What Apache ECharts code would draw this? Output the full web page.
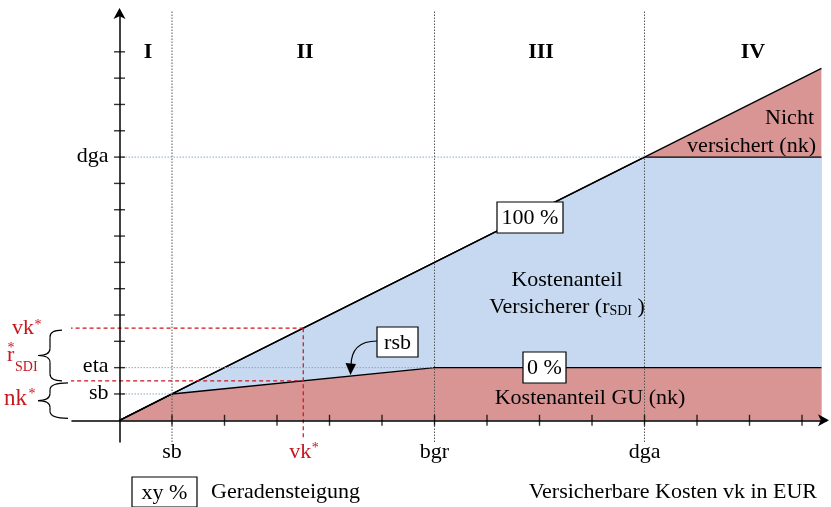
<!DOCTYPE html>
<html>
<head>
<meta charset="utf-8">
<script src="https://cdn.jsdelivr.net/npm/echarts@6/dist/echarts.min.js"></script>
<style>
html, body { margin: 0; padding: 0; background: #fff; }
#chart { width: 831px; height: 507px; }
</style>
</head>
<body>
<div id="chart"></div>
<script>
// Eckpunkte der Kurven (x in Tick-Einheiten)
var edgeX    = [0, 1, 6, 10, 13.37];      // 0, sb, bgr, dga, Ende
var totalY   = [0, 1, 6, 10, 13.37];      // 100 % Linie (vk)
var insuredY = [0, 1, 6, 10, 10];         // gedeckelt bei dga
var guY      = [0, 1, 2, 2, 2];           // rsb-Linie, ab bgr = eta

var xTickVals = [1, 2, 3, 4, 5, 6, 7, 8, 9, 10, 11, 12, 13];
var yTickVals = [1, 2, 3, 4, 5, 6, 7, 8, 9, 10, 11, 12, 13, 14];
var xLabelVals = [1, 3.5, 6, 10];
var xLabelNames = ['sb', 'vk', 'bgr', 'dga'];
var yLabelVals = [1, 2, 10];
var yLabelNames = ['sb', 'eta', 'dga'];

var phaseX = [1, 6, 10];                  // gepunktete Grenzen sb, bgr, dga
var levelY = [1, 2, 10];                  // sb, eta, dga
var levelEndX = [1, 6, 10];
var vkStar = 3.5, nkStar = 1.5;

var X_MIN = -0.905, X_MAX = 13.457, Y_MIN = -0.825, Y_MAX = 15.551;

var PINK = '#d99594', BLUE = '#c6d9f0', RED = '#c8161d', DOT = '#8aa4c8';
var FONT = '"Liberation Serif", "Times New Roman", serif';
var FS = 22;

function pts(xs, ys) {
    return xs.map(function (x, i) { return [x, ys[i]]; });
}

function lineSeries(data, color, type, width) {
    return {
        type: 'line', data: data, symbol: 'none', silent: true, clip: false, z: 3,
        lineStyle: { color: color, type: type, width: width }
    };
}

function areaSeries(ys, fill) {
    return {
        type: 'line', data: pts(edgeX, ys), symbol: 'none', silent: true, z: 2,
        areaStyle: { color: fill, opacity: 1 },
        lineStyle: { color: '#000', width: 1.4 }
    };
}

var series = [
    areaSeries(totalY, PINK),
    areaSeries(insuredY, BLUE),
    areaSeries(guY, PINK)
];

phaseX.forEach(function (x) {
    series.push(lineSeries([[x, Y_MIN], [x, Y_MAX]], '#555', [1.5, 1.5], 1));
});
levelY.forEach(function (y, i) {
    series.push(lineSeries([[0, y], [levelEndX[i], y]], DOT, [1.5, 1.5], 1));
});
// rote Hilfslinien vk* / nk*
series.push(lineSeries([[-1.55, vkStar], [-1.40, vkStar]], RED, [4, 3], 1.2));
series.push(lineSeries([[-0.97, vkStar], [vkStar, vkStar]], RED, [4, 3], 1.2));
series.push(lineSeries([[-0.94, nkStar], [vkStar, nkStar]], RED, [4, 3], 1.2));
series.push(lineSeries([[vkStar, vkStar], [vkStar, -0.65]], RED, [4, 3], 1.2));

// Achsenstriche
series.push({
    type: 'scatter', silent: true, z: 6, symbol: 'rect', symbolSize: [1.4, 11],
    itemStyle: { color: '#000' },
    data: xTickVals.map(function (v) { return [v, 0]; })
});
series.push({
    type: 'scatter', silent: true, z: 6, symbol: 'rect', symbolSize: [11, 1.4],
    itemStyle: { color: '#000' },
    data: yTickVals.map(function (v) { return [0, v]; })
});

var axisLine = {
    onZero: true, symbol: ['none', 'arrow'], symbolSize: [9, 11], symbolOffset: [0, 3],
    lineStyle: { color: '#000', width: 1.5 }
};

var chart = echarts.init(document.getElementById('chart'));
chart.setOption({
    animation: false,
    grid: { left: 72, right: 5, top: 11, bottom: 65, outerBoundsMode: 'none' },
    xAxis: {
        type: 'value', min: X_MIN, max: X_MAX, z: 5,
        axisLine: axisLine, axisTick: { show: false }, splitLine: { show: false },
        axisLabel: { show: false }
    },
    yAxis: {
        type: 'value', min: Y_MIN, max: Y_MAX, z: 5,
        axisLine: axisLine, axisTick: { show: false }, splitLine: { show: false },
        axisLabel: { show: false }
    },
    series: series
});

function P(x, y) { return chart.convertToPixel({ gridIndex: 0 }, [x, y]); }

function txt(x, y, text, opt) {
    opt = opt || {};
    return {
        type: 'text', x: x, y: y, z: 100, silent: true,
        style: {
            text: text, fill: opt.color || '#000',
            font: (opt.bold ? 'bold ' : '') + (opt.size || FS) + 'px ' + FONT,
            align: opt.align || 'center', verticalAlign: 'middle',
            textAlign: opt.align || 'center', textVerticalAlign: 'middle',
            rich: opt.rich
        }
    };
}

function box(x, y, w, h, text) {
    return [
        { type: 'rect', z: 99, silent: true, shape: { x: x, y: y, width: w, height: h },
          style: { fill: '#fff', stroke: '#000', lineWidth: 1.2 } },
        txt(x + w / 2, y + h / 2 + 1, text)
    ];
}

function curve(x1, y1, cx, cy, x2, y2) {
    return { type: 'bezierCurve', z: 100, silent: true,
             shape: { x1: x1, y1: y1, cpx1: cx, cpy1: cy, x2: x2, y2: y2 },
             style: { stroke: '#000', fill: null, lineWidth: 1.2 } };
}
function seg(x1, y1, x2, y2) {
    return { type: 'line', z: 100, silent: true,
             shape: { x1: x1, y1: y1, x2: x2, y2: y2 },
             style: { stroke: '#000', lineWidth: 1.2 } };
}

// geschweifte Klammer, Spitze nach links
function brace(xr, xs, xt, y0, y1) {
    var r = 7, ym = (y0 + y1) / 2;
    return [
        curve(xr, y0, xs, y0, xs, y0 + r),
        seg(xs, y0 + r, xs, ym - r),
        curve(xs, ym - r, xs, ym, xt, ym),
        curve(xt, ym, xs, ym, xs, ym + r),
        seg(xs, ym + r, xs, y1 - r),
        curve(xs, y1 - r, xs, y1, xr, y1)
    ];
}

var origin = P(0, 0), x0 = origin[0], y0 = origin[1];
var yVk = P(0, vkStar)[1], yNk = P(0, nkStar)[1];

var g = [];
// Achsenbeschriftung
xLabelVals.forEach(function (v, i) {
    var px = P(v, 0)[0];
    if (v === vkStar) {
        g.push(txt(px - 3, y0 + 32, xLabelNames[i], { color: RED }));
        g.push(txt(px + 12, y0 + 28, '*', { color: RED, size: 14 }));
    } else {
        g.push(txt(px, y0 + 32, xLabelNames[i]));
    }
});
yLabelVals.forEach(function (v, i) {
    g.push(txt(x0 - 11, P(0, v)[1] - 1, yLabelNames[i], { align: 'right' }));
});

g = g.concat([
    txt(148, 52, 'I', { bold: true }),
    txt(305, 52, 'II', { bold: true }),
    txt(541, 52, 'III', { bold: true }),
    txt(753, 52, 'IV', { bold: true }),

    txt(567, 280, 'Kostenanteil'),
    txt(567, 307, '{a|Versicherer (r}{b|SDI}{a| )}', {
        rich: {
            a: { fontFamily: FONT, fontSize: FS },
            b: { fontFamily: FONT, fontSize: 14, verticalAlign: 'bottom', padding: [6, 0, 0, 0] }
        }
    }),
    txt(590, 398, 'Kostenanteil GU (nk)'),
    txt(814, 118, 'Nicht', { align: 'right' }),
    txt(816, 146, 'versichert (nk)', { align: 'right' }),

    txt(211, 492, 'Geradensteigung', { align: 'left' }),
    txt(817, 492, 'Versicherbare Kosten vk in EUR', { align: 'right' }),

    // linke Beschriftung
    txt(12, yVk, 'vk', { color: RED, align: 'left' }),
    txt(38, yVk - 3, '*', { color: RED, size: 14 }),
    txt(7, yVk + 27, 'r', { color: RED, align: 'left' }),
    txt(11, yVk + 20, '*', { color: RED, size: 14 }),
    txt(15, yVk + 39, 'SDI', { color: RED, align: 'left', size: 14 }),
    txt(4, y0 - 21, 'nk', { color: RED, align: 'left', size: 23 }),
    txt(32, y0 - 26, '*', { color: RED, size: 14 }),

    // Pfeil rsb
    curve(377, 341, 351, 341, 351, 366),
    { type: 'polygon', z: 100, silent: true,
      shape: { points: [[345.5, 363], [356, 364], [350.5, 375]] },
      style: { fill: '#000' } }
]);
g = g.concat(brace(62, 50, 38, yVk + 2, yNk));
g = g.concat(brace(68, 50, 38, yNk + 2, y0 - 2));
g = g.concat(box(497, 202, 66, 31, '100 %'));
g = g.concat(box(523, 352, 43, 31, '0 %'));
g = g.concat(box(377, 327, 41, 30, 'rsb'));
g = g.concat(box(132, 477, 65, 30, 'xy %'));

chart.setOption({ graphic: g });
</script>
</body>
</html>
